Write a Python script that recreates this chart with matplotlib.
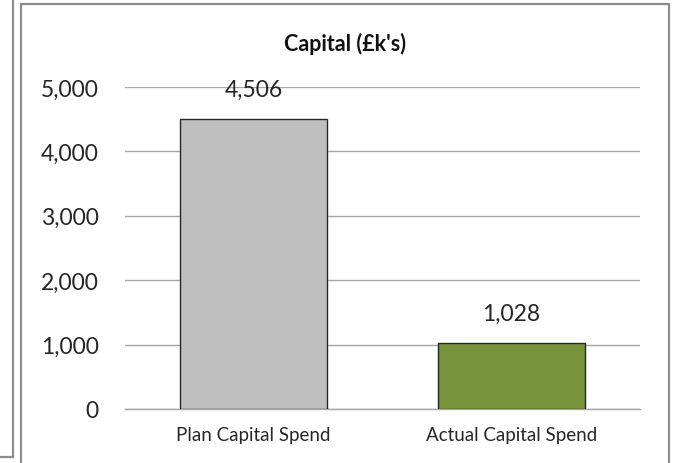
import matplotlib.pyplot as plt
from matplotlib.patches import Rectangle
from matplotlib.lines import Line2D
from matplotlib.ticker import FuncFormatter

categories = ["Plan Capital Spend", "Actual Capital Spend"]
values = [4506, 1028]
bar_colors = ["#bfbfbf", "#77933c"]
yticks = [0, 1000, 2000, 3000, 4000, 5000]
title = "Capital (£k's)"

plt.rcParams['font.family'] = ['Lato', 'DejaVu Sans']

W, H = 675, 464
fig = plt.figure(figsize=(W / 100, H / 100), dpi=100)

def fx(px):
    return px / W

def fy(py):
    return 1 - py / H

border = "#8c8c8c"
# neighbouring panel edge on the left
fig.add_artist(Line2D([fx(12.5), fx(12.5)], [fy(-5), fy(458)], color=border, lw=1.6,
                      transform=fig.transFigure))
fig.add_artist(Line2D([fx(-5), fx(12.5)], [fy(458), fy(458)], color=border, lw=1.6,
                      transform=fig.transFigure))
# chart frame
fig.add_artist(Rectangle((fx(21), fy(480)), fx(669) - fx(21), fy(5) - fy(480),
                         fill=False, edgecolor=border, lw=1.6, transform=fig.transFigure))

ax = fig.add_axes([fx(125), fy(410), fx(640) - fx(125), fy(88) - fy(410)])
x = range(len(categories))
bars = ax.bar(x, values, width=0.57, color=bar_colors, edgecolor="#262626", linewidth=1.0,
              zorder=3)

ax.set_ylim(0, 5000)
ax.set_xlim(-0.5, 1.5)
ax.set_yticks(yticks)
ax.yaxis.set_major_formatter(FuncFormatter(lambda v, p: f"{int(v):,}"))
ax.set_xticks(list(x))
ax.set_xticklabels(categories)
ax.grid(axis='y', color="#a6a6a6", lw=1.0, zorder=0)
ax.set_axisbelow(True)
for s in ["left", "right", "top"]:
    ax.spines[s].set_visible(False)
ax.spines["bottom"].set_color("#a6a6a6")
ax.spines["bottom"].set_linewidth(1.0)
ax.tick_params(axis='both', length=0)
ax.tick_params(axis='y', labelsize=16.5, labelcolor="#262626", pad=19)
ax.tick_params(axis='x', labelsize=13.5, labelcolor="#262626", pad=12)

for xi, v in zip(x, values):
    ax.annotate(f"{v:,}", (xi, v), xytext=(0, 14), textcoords="offset points",
                ha="center", va="bottom", fontsize=16.5, color="#262626")

fig.text(fx(345), fy(44), title, ha="center", va="center", fontsize=15.5,
         fontweight="bold", color="#111111")

fig.savefig("out.png", dpi=100)
